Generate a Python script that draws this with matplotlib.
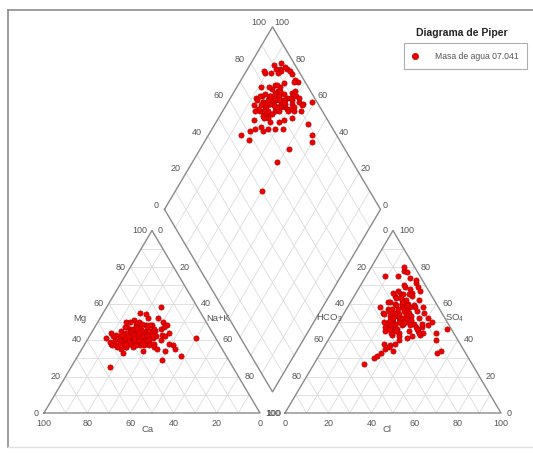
import numpy as np
import matplotlib
matplotlib.use("Agg")
import matplotlib.pyplot as plt
from matplotlib.lines import Line2D

plt.rcParams['font.family'] = ['Liberation Sans', 'DejaVu Sans']
plt.rcParams['mathtext.fontset'] = 'custom'
plt.rcParams['mathtext.rm'] = 'Liberation Sans'
plt.rcParams['mathtext.it'] = 'Liberation Sans:italic'

# ---------------- data (% meq) ----------------
mg = [42,40,44,38,45,41,39,43,47,36, 40,42,46,37,44,41,39,48,43,40,
      45,38,42,36,44,47,41,39,43,50, 37,45,40,42,46,38,41,44,39,43,
      35,48,40,45,42,37,46,41,49,39, 43,36,44,40,47,42,38,45,41,52,
      44,47,50,42,46,55,40,43,48,45, 38,51,58,44,40,38,36,43,39,34,
      41,37,33,29,34,37,41,31,35,38, 42,25,41,54,50,48,44,40,46,36,
      52,49,43,39,37,45,42,40,47,38, 43,41,45,39,42,44,40,46,43,38,
      41,37,47,35,50]
na_k = [22,20,18,24,25,16,19,21,20,23, 27,14,17,15,28,25,22,23,19,13,
        21,18,26,20,24,15,30,27,12,19, 26,29,17,31,22,21,24,16,29,27,
        18,26,23,13,20,30,28,19,21,25, 33,16,20,28,24,17,32,18,21,22,
        9,14,13,11,18,17,15,20,25,27, 12,16,25,22,15,18,20,22,26,29,
        17,24,20,40,39,41,50,48,43,39, 35,18,8,20,30,33,36,34,31,33,
        27,18,15,11,13,23,25,21,19,16, 29,23,26,20,18,22,24,20,26,19,
        21,28,32,35,15]
so4 = [52,50,55,48,58,53,46,60,62,44, 51,57,64,45,49,55,42,66,50,47,
       53,56,60,43,47,61,52,45,58,63, 48,56,50,44,54,59,62,49,46,57,
       51,65,53,55,48,43,59,61,67,50, 47,54,52,58,45,63,49,57,46,60,
       75,78,75,70,74,80,68,71,69,73, 65,66,77,67,30,33,35,37,38,40,
       36,34,31,27,38,45,33,34,40,46, 50,50,60,58,55,52,48,44,42,41,
       64,59,52,54,48,50,47,44,51,46, 53,56,61,57,54,49,52,55,50,48,
       65,62,58,44,69]
cl = [27,28,24,30,25,22,27,21,23,31, 33,19,19,24,35,30,32,17,25,23,
      32,20,27,28,37,17,36,39,15,20, 34,33,21,42,29,22,25,26,38,28,
      24,21,26,18,24,41,30,18,19,31, 40,19,28,31,35,22,39,21,29,24,
      9,16,15,20,21,15,24,25,27,24, 22,26,18,29,26,28,29,30,32,33,
      30,33,27,23,27,29,54,55,50,52, 43,30,24,29,37,40,42,40,38,36,
      27,27,30,24,27,23,26,27,23,25, 24,27,24,24,26,30,24,23,30,25,
      25,31,35,48,21]

series_label = "Masa de agua 07.041"
title_text = "Diagrama de Piper"
tick_values = [0, 20, 40, 60, 80, 100]

mg = np.array(mg, float); na_k = np.array(na_k, float)
so4 = np.array(so4, float); cl = np.array(cl, float)
ca = 100 - mg - na_k
hco3 = 100 - so4 - cl

# ---------------- geometry ----------------
GAP = 0.1157
OXR = 1 + GAP                       # origin of anion triangle
LX, LY = 0.5 + GAP / 2, 1 + GAP     # diamond left vertex
TX, TY = 1 + GAP / 2, 2 + GAP       # diamond top vertex

W, H = 533, 453
fig = plt.figure(figsize=(W / 100, H / 100), dpi=100)
ax = fig.add_axes([0, 0, 1, 1])
ax.set_xlim((0 - 44) / 216, (W - 44) / 216)
ax.set_ylim((413 - H) / 182.5, 413 / 182.5)
ax.axis('off')

GRID = '#dcdcdc'
EDGE = '#8a8a8a'
TXT = '#555555'

def tri_grid(ox):
    for i in range(1, 10):
        f = i / 10
        ax.plot([ox + f / 2, ox + 1 - f / 2], [f, f], color=GRID, lw=0.6, zorder=1)
        ax.plot([ox + f, ox + f + (1 - f) / 2], [0, 1 - f], color=GRID, lw=0.6, zorder=1)
        ax.plot([ox + 1 - f, ox + (1 - f) / 2], [0, 1 - f], color=GRID, lw=0.6, zorder=1)
    ax.plot([ox, ox + 1, ox + 0.5, ox], [0, 0, 1, 0], color=EDGE, lw=1.0, zorder=2)

tri_grid(0)
tri_grid(OXR)

# diamond
a = np.array([0.5, 1.0]); b = np.array([0.5, -1.0]); Lp = np.array([LX, LY])
for i in range(1, 10):
    f = i / 10
    p0 = Lp + f * a; p1 = p0 + b
    ax.plot([p0[0], p1[0]], [p0[1], p1[1]], color=GRID, lw=0.6, zorder=1)
    q0 = Lp + f * b; q1 = q0 + a
    ax.plot([q0[0], q1[0]], [q0[1], q1[1]], color=GRID, lw=0.6, zorder=1)
dv = np.array([Lp, Lp + a, Lp + a + b, Lp + b, Lp])
ax.plot(dv[:, 0], dv[:, 1], color=EDGE, lw=1.0, zorder=2)

# ---------------- tick labels ----------------
def lab(x, y, s, dx, dy, ha):
    ax.annotate(s, xy=(x, y), xytext=(dx, dy), textcoords='offset pixels',
                ha=ha, va='center', fontsize=6.5, color=TXT)

for v in tick_values:
    f = v / 100
    # cation
    lab(f / 2, f, str(v), -5, 0, 'right')                    # Mg
    lab(0.5 + f / 2, 1 - f, str(v), 6, 0, 'left')            # Na+K
    lab(1 - f, 0, str(v), 0, -11, 'center')                  # Ca
    # anion
    lab(OXR + (1 - f) / 2, 1 - f, str(v), -5, 0, 'right')    # HCO3
    lab(OXR + 1 - f / 2, f, str(v), 6, 0, 'left')            # SO4
    lab(OXR + f, 0, str(v), 0, -11, 'center')                # Cl
    # diamond
    p = Lp + f * a
    lab(p[0], p[1], str(v), -6, 4, 'right')                  # SO4+Cl
    q = np.array([TX, TY]) + (1 - f) * b
    lab(q[0], q[1], str(v), 2, 4, 'left')                    # Ca+Mg

def axname(x, y, s, dx, dy, ha):
    ax.annotate(s, xy=(x, y), xytext=(dx, dy), textcoords='offset pixels',
                ha=ha, va='center', fontsize=6.8, color=TXT)

axname(0.26, 0.52, 'Mg', -20, 0, 'center')
axname(0.5 + 0.24, 0.52, 'Na+K', 2, 0, 'left')
axname(0.48, 0, 'Ca', 0, -17, 'center')
axname(OXR + 0.26, 0.52, 'HCO$_3$', -12, 0, 'center')
axname(OXR + 1 - 0.26, 0.52, 'SO$_4$', 0, 0, 'left')
axname(OXR + 0.47, 0, 'Cl', 0, -16, 'center')

# ---------------- points ----------------
cx = na_k / 100 + mg / 200
cy = mg / 100
axx = OXR + cl / 100 + so4 / 200
ayy = so4 / 100
sc = (so4 + cl) / 100
nk = na_k / 100
dx_ = LX + 0.5 * (sc + nk)
dy_ = LY + sc - nk

kw = dict(s=14, c='#ee0000', edgecolors='#b80000', linewidths=0.5, zorder=5)
h = ax.scatter(cx, cy, label=series_label, **kw)
ax.scatter(axx, ayy, **kw)
ax.scatter(dx_, dy_, **kw)

# ---------------- legend / title ----------------
fig.text(462 / W, 1 - 33 / H, title_text, ha='center', va='center',
         fontsize=7.5, fontweight='bold', color='#222222')
leg = ax.legend(handles=[h], loc='upper right',
                bbox_to_anchor=(527 / W, 1 - 43 / H), bbox_transform=fig.transFigure,
                borderaxespad=0, fontsize=6.2, frameon=True, fancybox=False,
                borderpad=1.0, handlelength=0.6, handletextpad=2.0,
                markerscale=1.2)
leg.get_frame().set_edgecolor('#9a9a9a')
leg.get_frame().set_linewidth(0.8)
for t in leg.get_texts():
    t.set_color(TXT)

# ---------------- frame ----------------
fig.add_artist(Line2D([8 / W, 1], [1 - 10 / H, 1 - 10 / H], transform=fig.transFigure,
                      color='#8c8c8c', lw=1.2))
fig.add_artist(Line2D([8 / W, 8 / W], [1 - 10 / H, 1 - 447 / H], transform=fig.transFigure,
                      color='#8c8c8c', lw=1.2))
fig.add_artist(Line2D([8 / W, 1], [1 - 447 / H, 1 - 447 / H], transform=fig.transFigure,
                      color='#e0e0e0', lw=1.0))

fig.savefig('out.png', dpi=100)
